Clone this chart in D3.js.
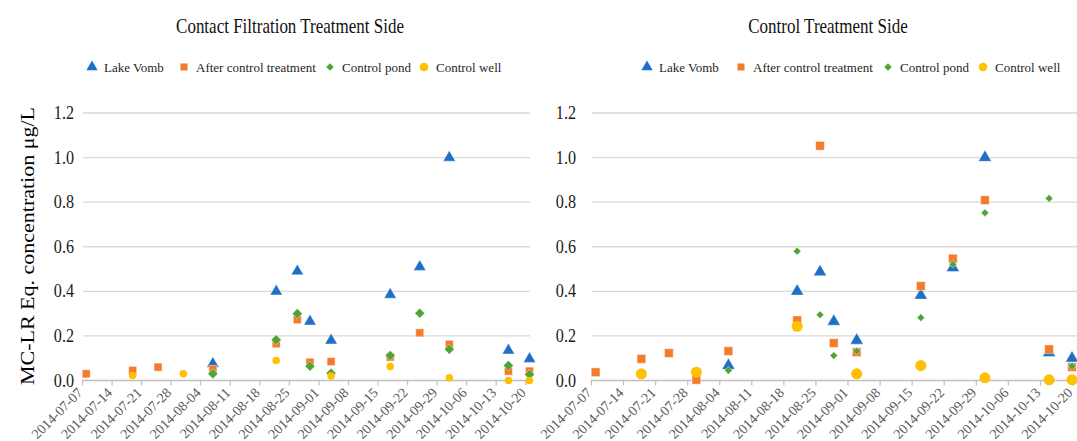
<!DOCTYPE html>
<html>
<head>
<meta charset="utf-8">
<script src="https://cdn.jsdelivr.net/npm/d3@7"></script>
<style>
  html, body { margin: 0; padding: 0; background: #fff; }
  svg { display: block; }
</style>
</head>
<body>
<svg id="chart" width="1077" height="441"></svg>
<script>
// ---------------- DATA ----------------
const seriesNames = ["Lake Vomb", "After control treatment", "Control pond", "Control well"];
const yTickValues = [0, 0.2, 0.4, 0.6, 0.8, 1.0, 1.2];
const xTickLabels = ["2014-07-07","2014-07-14","2014-07-21","2014-07-28","2014-08-04","2014-08-11",
  "2014-08-18","2014-08-25","2014-09-01","2014-09-08","2014-09-15","2014-09-22","2014-09-29",
  "2014-10-06","2014-10-13","2014-10-20"];
const panelTitles = ["Contact Filtration Treatment Side", "Control Treatment Side"];
const yAxisTitle = "MC-LR Eq. concentration μg/L";

// Contact Filtration Treatment Side
const cfLakeVomb = [["2014-08-07",0.075],["2014-08-22",0.40],["2014-08-27",0.49],["2014-08-30",0.265],
  ["2014-09-04",0.18],["2014-09-18",0.385],["2014-09-25",0.51],["2014-10-02",1.0],["2014-10-16",0.135],["2014-10-21",0.097]];
const cfAfterTreatment = [["2014-07-08",0.03],["2014-07-19",0.045],["2014-07-25",0.06],["2014-08-07",0.05],
  ["2014-08-22",0.165],["2014-08-27",0.273],["2014-08-30",0.082],["2014-09-04",0.085],["2014-09-18",0.105],
  ["2014-09-25",0.214],["2014-10-02",0.162],["2014-10-16",0.042],["2014-10-21",0.042]];
const cfControlPond = [["2014-08-07",0.03],["2014-08-22",0.183],["2014-08-27",0.30],["2014-08-30",0.064],
  ["2014-09-04",0.033],["2014-09-18",0.112],["2014-09-25",0.302],["2014-10-02",0.14],["2014-10-16",0.067],["2014-10-21",0.027]];
const cfControlWell = [["2014-07-19",0.022],["2014-07-31",0.03],["2014-08-22",0.09],["2014-09-04",0.02],
  ["2014-09-18",0.063],["2014-10-02",0.012],["2014-10-16",0.0],["2014-10-21",0.0]];

// Control Treatment Side
const ctLakeVomb = [["2014-08-06",0.067],["2014-08-21",0.40],["2014-08-26",0.487],["2014-08-29",0.265],
  ["2014-09-03",0.18],["2014-09-17",0.382],["2014-09-24",0.506],["2014-10-01",1.0],["2014-10-15",0.125],["2014-10-20",0.10]];
const ctAfterTreatment = [["2014-07-08",0.037],["2014-07-18",0.097],["2014-07-24",0.123],["2014-07-30",0.003],
  ["2014-08-06",0.132],["2014-08-21",0.27],["2014-08-26",1.053],["2014-08-29",0.168],["2014-09-03",0.127],
  ["2014-09-17",0.424],["2014-09-24",0.547],["2014-10-01",0.809],["2014-10-15",0.14],["2014-10-20",0.06]];
const ctControlPond = [["2014-08-06",0.045],["2014-08-21",0.58],["2014-08-26",0.295],["2014-08-29",0.112],
  ["2014-09-03",0.132],["2014-09-17",0.282],["2014-09-24",0.521],["2014-10-01",0.752],["2014-10-15",0.817],["2014-10-20",0.064]];
const ctControlWell = [["2014-07-18",0.03],["2014-07-30",0.037],["2014-08-21",0.243],["2014-09-03",0.03],
  ["2014-09-17",0.067],["2014-10-01",0.012],["2014-10-15",0.003],["2014-10-20",0.003]];

// ---------------- STYLE / LAYOUT ----------------
const colors = ["#1F6FC6", "#F47B2A", "#4EA535", "#FFC000"];
const diamond = d3.symbolDiamond2 || {
  draw(ctx, size) { const r = Math.sqrt(size) * 0.62625; ctx.moveTo(0, -r); ctx.lineTo(r, 0); ctx.lineTo(0, r); ctx.lineTo(-r, 0); ctx.closePath(); }
};
const symbols = [d3.symbolTriangle, d3.symbolSquare, diamond, d3.symbolCircle];
const SX = 0.85; // horizontal compression of the original image
const parse = d3.timeParse("%Y-%m-%d");
const fmt = d3.timeFormat("%Y-%m-%d");
const serif = "'Liberation Serif', 'Times New Roman', serif";

const panels = [
  { title: panelTitles[0], titleX: 290,
    series: [cfLakeVomb, cfAfterTreatment, cfControlPond, cfControlWell],
    x0: 82, x1: 525.3, gridEnd: 530, sizes: [66, 64, 64, 44],
    legendX: [92, 184, 330, 424], labelGap: 8 },
  { title: panelTitles[1], titleX: 828,
    series: [ctLakeVomb, ctAfterTreatment, ctControlPond, ctControlWell],
    x0: 591, x1: 1072, gridEnd: 1080, sizes: [74, 76, 38, 96],
    legendX: [647, 741, 888, 983], labelGap: 15 }
];
const yTop = 113, yBottom = 380.5;

const svg = d3.select("#chart");

function hText(g, x, y, txt, size, opts = {}) {
  const sx = opts.sx == null ? SX : opts.sx;
  return g.append("text")
    .attr("transform", `translate(${x},${y}) scale(${sx},1)`)
    .attr("text-anchor", opts.anchor || "start")
    .attr("font-family", serif)
    .attr("font-size", size)
    .attr("fill", opts.fill || "#000")
    .text(txt);
}

// Y axis title
svg.append("text")
  .attr("transform", `translate(34,246) scale(${SX},1) rotate(-90)`)
  .attr("text-anchor", "middle")
  .attr("font-family", serif)
  .attr("font-size", 22)
  .attr("fill", "#000")
  .text(yAxisTitle);

panels.forEach((p, pi) => {
  const g = svg.append("g");
  const x = d3.scaleTime()
    .domain([parse(xTickLabels[0]), parse(xTickLabels[xTickLabels.length - 1])])
    .range([p.x0, p.x1]);
  const y = d3.scaleLinear().domain([0, 1.2]).range([yBottom, yTop]);

  // title
  hText(g, p.titleX, 33, p.title, 20, { anchor: "middle", fill: "#111" });

  // gridlines
  g.selectAll(".grid").data(yTickValues.filter(v => v > 0)).enter().append("line")
    .attr("x1", p.x0 + 1).attr("x2", p.gridEnd)
    .attr("y1", d => y(d)).attr("y2", d => y(d))
    .attr("stroke", "#d9d9d9").attr("stroke-width", 1.4);

  // y tick labels
  yTickValues.forEach(v => {
    hText(g, p.x0 - p.labelGap, y(v) + 6, d3.format(".1f")(v), 19, { anchor: "end", fill: "#1a1a1a" });
  });

  // x axis
  const xAxis = d3.axisBottom(x)
    .tickValues(xTickLabels.map(parse))
    .tickFormat(fmt)
    .tickSize(5)
    .tickSizeOuter(0);
  const ax = g.append("g").attr("transform", `translate(0,${yBottom})`).call(xAxis);
  ax.select(".domain").attr("stroke", "#bfbfbf").attr("stroke-width", 1.4)
    .attr("d", `M${p.x0},0H${p.gridEnd}`);
  ax.selectAll(".tick line").attr("stroke", "#bfbfbf").attr("stroke-width", 1.2);
  ax.selectAll(".tick text")
    .attr("font-family", serif)
    .attr("font-size", 14)
    .attr("fill", "#595959")
    .attr("text-anchor", "end")
    .attr("dy", null)
    .attr("y", 0)
    .attr("transform", "translate(1,13) rotate(-45)");

  // points (series drawn in sequence so later ones sit on top)
  p.series.forEach((data, si) => {
    const sym = d3.symbol().type(symbols[si]).size(p.sizes[si]);
    g.append("g").selectAll("path").data(data).enter().append("path")
      .attr("transform", d => `translate(${x(parse(d[0]))},${y(d[1])})`)
      .attr("d", sym)
      .attr("fill", colors[si])
      .attr("stroke", si === 3 ? "none" : "#ffffff")
      .attr("stroke-opacity", 0.55)
      .attr("stroke-width", 0.8);
  });

  // legend
  seriesNames.forEach((name, si) => {
    const lx = p.legendX[si];
    g.append("path")
      .attr("transform", `translate(${lx},67)`)
      .attr("d", d3.symbol().type(symbols[si]).size([55, 50, 36, 60][si]))
      .attr("fill", colors[si]);
    hText(g, lx + 12, 71.5, name, 13, { fill: "#262626", sx: 1 });
  });
});
</script>
</body>
</html>
